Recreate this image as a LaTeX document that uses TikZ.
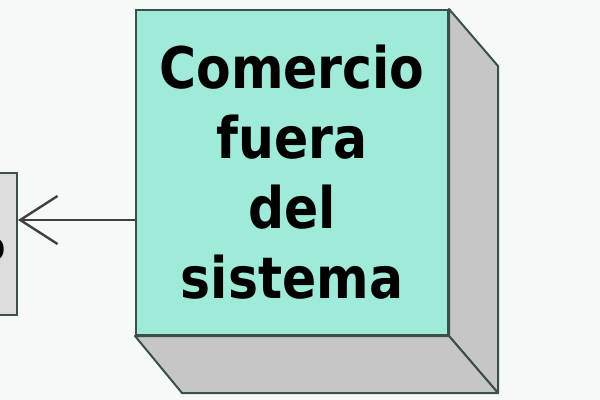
\documentclass[tikz,border=0pt]{standalone}
\usepackage{fontspec}
\setmainfont{DejaVu Sans}[FakeStretch=0.88]
\usetikzlibrary{arrows.meta, calc}

\definecolor{bgpaper}{HTML}{F5F9F7}
\definecolor{nodefront}{HTML}{A0EAD9}
\definecolor{nodeside}{HTML}{C6C6C6}
\definecolor{nodeedge}{HTML}{3C4F4B}
\definecolor{otherbox}{HTML}{DCDCDC}

\tikzset{
  front/.style={draw=nodeedge, fill=nodefront, line width=1.5pt, minimum width=234pt, minimum height=243.75pt, inner sep=0pt},
  sideface/.style={draw=nodeedge, fill=nodeside, line width=1.5pt, line join=round},
  uses/.style={draw=black!75, line width=1.8pt, -{Straight Barb[length=28pt, width=36pt, line width=1.8pt]}}
}

\begin{document}
\begin{tikzpicture}[x=0.75pt, y=-0.75pt]
      \fill[bgpaper] (0,0) rectangle (600,400);
      \useasboundingbox (0,0) rectangle (600,400);

      % box on the left, cut by the border
      \node[draw=nodeedge, fill=otherbox, line width=1.5pt, minimum width=85.5pt, minimum height=106.5pt](O) at (-40,244){};
      \node[font=\bfseries\fontsize{30}{36}\selectfont, inner sep=0pt](Otext) at (-6,250){o};

      % the 3D node
      \node[front, align=center, font=\bfseries\fontsize{43}{52.5}\selectfont](N) at (292,172.5){Comercio\\fuera\\del\\sistema};
      \draw[sideface] (N.north east) -- ++(49,57) -- ($(N.south east)+(49,57)$) -- (N.south east) -- cycle;
      \draw[sideface] (N.south west) -- ++(47,57) -- ($(N.south east)+(49,57)$) -- (N.south east) -- cycle;

      \draw[uses] (N.west |- 0,220) -- (O.east |- 0,220);
    \end{tikzpicture}
\end{document}
